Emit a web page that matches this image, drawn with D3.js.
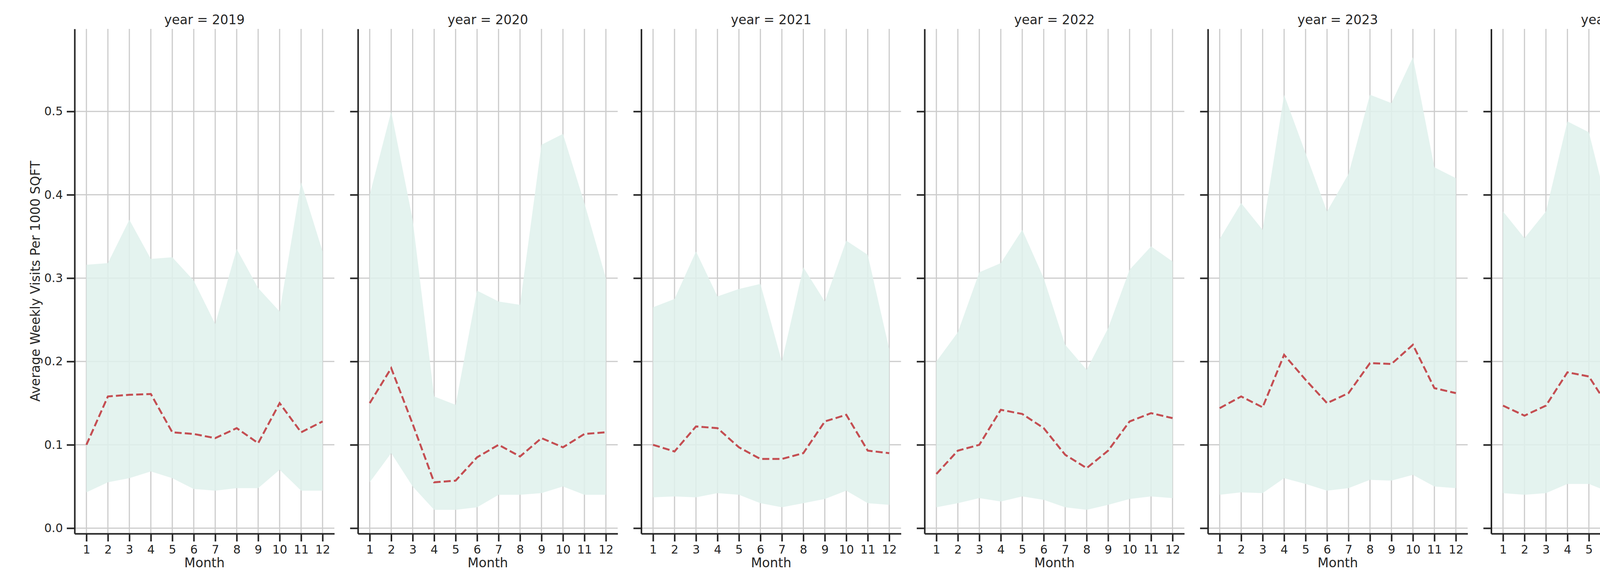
<!DOCTYPE html>
<html><head><meta charset="utf-8">
<script src="https://cdn.jsdelivr.net/npm/d3@7"></script>
<style>body{margin:0;background:#fff}text{font-family:"DejaVu Sans",sans-serif;fill:#262626}</style>
</head><body><svg id="c" width="5250" height="1500"></svg>
<script>
const years = [2019,2020,2021,2022,2023,2024,2025];
const months = [1,2,3,4,5,6,7,8,9,10,11,12];
const yTicks = [0.0,0.1,0.2,0.3,0.4,0.5];
const median = [
 [0.100,0.158,0.160,0.161,0.115,0.113,0.108,0.120,0.102,0.150,0.115,0.128],
 [0.150,0.192,0.125,0.055,0.057,0.085,0.100,0.086,0.108,0.097,0.113,0.115],
 [0.100,0.092,0.122,0.120,0.097,0.083,0.083,0.090,0.128,0.136,0.093,0.090],
 [0.065,0.093,0.100,0.142,0.137,0.120,0.088,0.072,0.093,0.128,0.138,0.132],
 [0.144,0.158,0.145,0.208,0.178,0.150,0.162,0.198,0.197,0.220,0.168,0.162],
 [0.147,0.135,0.147,0.187,0.182,0.142,0.173,0.155,0.175,0.160,0.133,0.148],
 [0.118,0.120,0.112,0.127,0.163]
];
const upper = [
 [0.316,0.318,0.370,0.323,0.325,0.297,0.245,0.335,0.288,0.260,0.415,0.332],
 [0.400,0.500,0.370,0.158,0.148,0.285,0.272,0.268,0.460,0.473,0.390,0.300],
 [0.265,0.275,0.332,0.278,0.287,0.293,0.200,0.313,0.272,0.345,0.328,0.215],
 [0.200,0.235,0.307,0.318,0.358,0.300,0.220,0.190,0.240,0.310,0.338,0.320],
 [0.347,0.390,0.358,0.520,0.450,0.380,0.425,0.520,0.510,0.565,0.433,0.420],
 [0.380,0.348,0.380,0.488,0.475,0.372,0.460,0.415,0.435,0.433,0.355,0.397],
 [0.365,0.370,0.340,0.385,0.505]
];
const lower = [
 [0.043,0.055,0.060,0.068,0.060,0.047,0.045,0.048,0.048,0.070,0.045,0.045],
 [0.055,0.090,0.050,0.022,0.022,0.025,0.040,0.040,0.042,0.050,0.040,0.040],
 [0.037,0.038,0.037,0.042,0.040,0.030,0.025,0.030,0.035,0.045,0.030,0.028],
 [0.025,0.030,0.036,0.032,0.038,0.034,0.025,0.022,0.028,0.035,0.038,0.036],
 [0.040,0.043,0.042,0.060,0.053,0.045,0.048,0.058,0.057,0.064,0.050,0.048],
 [0.042,0.040,0.042,0.053,0.053,0.043,0.050,0.047,0.048,0.048,0.042,0.045],
 [0.028,0.029,0.027,0.031,0.040]
];

const svg = d3.select("#c");
const left0 = 191, step = 725.3, pw = 665, plotTop = 74, plotBottom = 1366;
const y = d3.scaleLinear().domain([-0.0066,0.599]).range([plotBottom, plotTop]);
const fillC = "#dff1ec", lineC = "#c44e52";

years.forEach((yr,i)=>{
  const x0 = left0 + i*step;
  const x = d3.scaleLinear().domain([0.45,12.55]).range([x0, x0+pw]);
  const g = svg.append("g");
  g.selectAll(".gv").data(months).join("line")
    .attr("x1",d=>x(d)).attr("x2",d=>x(d)).attr("y1",plotTop).attr("y2",plotBottom)
    .attr("stroke","#cccccc").attr("stroke-width",3);
  g.selectAll(".gh").data(yTicks).join("line")
    .attr("x1",x0).attr("x2",x0+pw).attr("y1",d=>y(d)).attr("y2",d=>y(d))
    .attr("stroke","#cccccc").attr("stroke-width",3);
  const data = median[i].map((m,k)=>({m:months[k],med:m,lo:lower[i][k],hi:upper[i][k]}));
  g.append("path").datum(data).attr("fill",fillC).attr("fill-opacity",0.85)
    .attr("d",d3.area().x(d=>x(d.m)).y0(d=>y(d.lo)).y1(d=>y(d.hi)));
  g.append("path").datum(data).attr("fill","none").attr("stroke",lineC)
    .attr("stroke-width",5).attr("stroke-dasharray","18,8")
    .attr("d",d3.line().x(d=>x(d.m)).y(d=>y(d.med)));
  const xa = g.append("g").attr("transform",`translate(0,${plotBottom})`)
    .call(d3.axisBottom(x).tickValues(months).tickSize(20).tickPadding(10).tickSizeOuter(0));
  const ya = g.append("g").attr("transform",`translate(${x0},0)`)
    .call(d3.axisLeft(y).tickValues(yTicks).tickSize(20).tickPadding(10).tickSizeOuter(0)
      .tickFormat(i===0? d3.format(".1f") : ()=>""));
  [xa,ya].forEach(a=>{
    a.select(".domain").attr("stroke","#262626").attr("stroke-width",4);
    a.selectAll(".tick line").attr("stroke","#262626").attr("stroke-width",4);
    a.selectAll("text").style("font-size","30px").attr("fill","#262626");
  });
  g.append("text").attr("x",x0+pw/2).attr("y",1452).attr("text-anchor","middle")
    .style("font-size","33px").text("Month");
  g.append("text").attr("x",x0+pw/2).attr("y",62).attr("text-anchor","middle")
    .style("font-size","33px").text(`year = ${yr}`);
});
svg.append("text").attr("transform","translate(102,720) rotate(-90)").attr("text-anchor","middle")
  .style("font-size","33px").text("Average Weekly Visits Per 1000 SQFT");

const lg = svg.append("g").attr("transform","translate(4752,120)");
lg.append("rect").attr("width",460).attr("height",108).attr("rx",8)
  .attr("fill","#fff").attr("fill-opacity",0.8).attr("stroke","#cccccc").attr("stroke-width",2);
lg.append("line").attr("x1",14).attr("x2",76).attr("y1",30).attr("y2",30)
  .attr("stroke",lineC).attr("stroke-width",5).attr("stroke-dasharray","18,8");
lg.append("rect").attr("x",14).attr("y",64).attr("width",62).attr("height",22).attr("fill",fillC);
lg.append("text").attr("x",98).attr("y",41).style("font-size","30px").text("Median");
lg.append("text").attr("x",98).attr("y",86).style("font-size","30px").text("25th-75th Percentile");
</script></body></html>
